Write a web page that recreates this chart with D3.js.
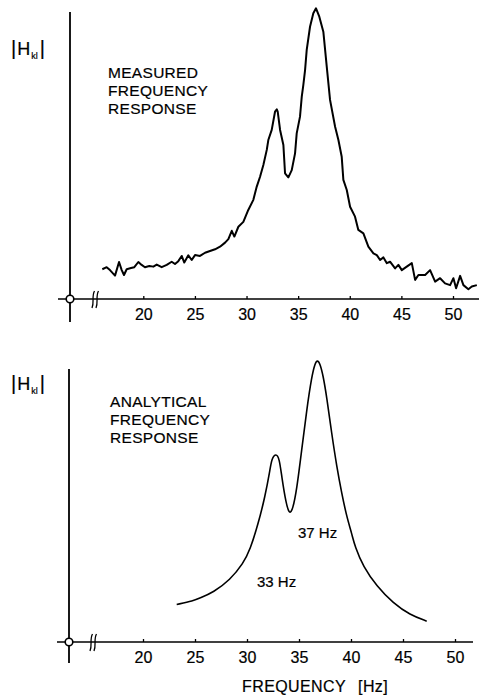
<!DOCTYPE html>
<html>
<head>
<meta charset="utf-8">
<script src="https://cdn.jsdelivr.net/npm/d3@7"></script>
<style>
  html, body { margin: 0; padding: 0; background: #fff; }
  svg { display: block; }
  text { font-family: "Liberation Sans", Arial, sans-serif; fill: #000; stroke: #000; stroke-width: 0.2px; }
</style>
</head>
<body>
<svg id="chart" width="479" height="699"></svg>
<script>
// ---- data ----
const tickValues = [20, 25, 30, 35, 40, 45, 50];
const tickLabels = ["20", "25", "30", "35", "40", "45", "50"];

// measured frequency response (Hz, relative |Hkl|)
const measuredFreq = [16.03,16.45,16.77,17.26,17.65,17.91,18.13,18.39,18.81,19.13,19.52,19.84,20.16,20.58,20.97,21.30,21.78,22.27,22.75,23.07,23.39,23.72,23.97,24.36,24.69,25.01,25.49,25.98,26.46,26.95,27.43,27.92,28.24,28.57,28.82,29.21,29.69,30.17,30.66,30.99,31.31,31.63,31.96,32.11,32.44,32.76,32.93,33.02,33.25,33.57,33.73,34.05,34.38,34.70,34.86,35.18,35.35,35.50,35.67,35.83,36.15,36.47,36.73,37.05,37.44,37.77,38.09,38.58,38.90,39.22,39.38,39.71,40.03,40.51,40.83,41.32,41.80,42.29,42.62,42.94,43.26,43.59,43.90,44.39,44.71,45.04,45.52,46.01,46.33,46.65,47.30,47.78,48.27,48.75,49.23,49.72,50.04,50.30,50.69,51.01,51.49,51.82,52.31];
const measuredAmp = [10.3,11.0,10.0,8.1,12.8,10.0,8.3,10.3,10.7,11.0,12.8,11.8,11.0,11.4,11.2,11.9,11.0,11.8,12.9,12.1,13.1,14.9,12.6,15.1,13.5,15.2,14.9,16.0,16.6,17.2,18.1,19.5,20.7,23.6,21.6,25.0,26.7,30.8,34.3,38.9,42.3,46.4,51.6,55.0,58.5,64.8,65.6,64.8,58.5,53.3,43.5,42.1,44.6,50.4,57.3,63.1,70.0,74.0,79.2,86.2,94.2,98.9,100.6,97.7,92.5,80.4,68.9,59.6,55.0,49.2,41.2,37.7,31.9,28.5,23.9,22.7,18.1,15.8,15.2,13.5,14.4,12.4,12.9,10.6,11.8,10.0,11.2,12.4,6.6,8.3,8.3,10.0,6.0,7.2,5.4,4.8,7.2,3.7,8.0,4.8,3.4,4.3,4.8];

// analytical frequency response
const analyticFreq = [23.24,24.84,25.48,26.76,28.37,29.64,30.29,31.09,31.73,32.21,32.38,32.79,33.11,33.34,33.75,34.07,34.39,34.78,35.26,35.74,36.22,36.54,36.76,37.02,37.34,37.66,38.14,38.63,39.11,39.59,40.07,40.38,41.18,42.47,44.07,45.67,47.28];
const analyticAmp  = [13.3,14.6,15.6,17.6,22.0,27.9,32.6,42.1,51.5,61.0,65.1,66.9,65.1,58.6,49.2,45.3,46.8,53.9,68.1,82.3,94.1,98.8,100,98.8,94.1,87.0,74.0,62.2,52.7,44.4,38.5,33.8,26.7,19.8,13.7,9.6,7.4];

const peakLabels = ["37 Hz", "33 Hz"];

// ---- drawing ----
const svg = d3.select("#chart");

function panel(cfg) {
  const g = svg.append("g");
  const x = d3.scaleLinear().domain([20, 50]).range(cfg.xr);
  const y = d3.scaleLinear().domain([0, 100]).range(cfg.yr);
  const y0 = y(0);
  const ox = cfg.originX;

  g.append("line").attr("x1", ox).attr("x2", ox)
    .attr("y1", cfg.vTop).attr("y2", cfg.vBottom)
    .attr("stroke", "#000").attr("stroke-width", 1.8);
  g.append("line").attr("x1", ox - 12).attr("x2", cfg.hRight)
    .attr("y1", y0).attr("y2", y0)
    .attr("stroke", "#000").attr("stroke-width", 1.6);
  g.append("circle").attr("cx", ox).attr("cy", y0).attr("r", 3.8)
    .attr("fill", "#fff").attr("stroke", "#000").attr("stroke-width", 1.6);
  [0, 4].forEach(d => {
    const bx = cfg.breakX + d;
    g.append("path")
      .attr("d", `M${bx + 1.5},${y0 - 8} C${bx - 1.5},${y0 - 3} ${bx + 1.5},${y0 + 3} ${bx - 1.0},${y0 + 9}`)
      .attr("fill", "none").attr("stroke", "#000").attr("stroke-width", 1.3);
  });

  const axis = d3.axisBottom(x).tickValues(tickValues)
    .tickFormat((d, i) => tickLabels[i]).tickSize(-3).tickPadding(10);
  const ag = g.append("g").attr("transform", `translate(0,${y0})`).call(axis);
  ag.select(".domain").remove();
  ag.selectAll(".tick line").attr("stroke", "#000").attr("stroke-width", 1.3);
  ag.selectAll(".tick text").attr("font-size", 16)
    .attr("font-family", "'Liberation Sans', Arial, sans-serif").attr("fill", "#000");

  const hl = g.append("text").attr("x", 11).attr("y", cfg.hY).attr("font-size", 20);
  hl.append("tspan").text("|");
  hl.append("tspan").attr("dx", 1).attr("font-size", 18).text("H");
  hl.append("tspan").attr("font-size", 9).attr("dy", 4).attr("dx", 1).text("kl");
  hl.append("tspan").attr("dy", -4).attr("dx", 2).text("|");

  cfg.title.forEach((t, i) => {
    g.append("text").attr("x", cfg.titleX).attr("y", cfg.titleY + i * 18)
      .attr("font-size", 15.5).attr("letter-spacing", 0.3).text(t);
  });

  return {g, x, y};
}

const topPanel = panel({
  xr: [143.3, 453], yr: [299, 10], originX: 70, vTop: 12, vBottom: 322,
  hRight: 479, breakX: 93, hY: 55, titleX: 108, titleY: 78,
  title: ["MEASURED", "FREQUENCY", "RESPONSE"]
});
const lineTop = d3.line()
  .x((d, i) => topPanel.x(measuredFreq[i]))
  .y(d => topPanel.y(d));
topPanel.g.append("path").datum(measuredAmp).attr("d", lineTop)
  .attr("fill", "none").attr("stroke", "#000").attr("stroke-width", 2)
  .attr("stroke-linejoin", "round");

const botPanel = panel({
  xr: [143, 455], yr: [642, 360], originX: 69, vTop: 369, vBottom: 663,
  hRight: 473, breakX: 91, hY: 390, titleX: 110, titleY: 407,
  title: ["ANALYTICAL", "FREQUENCY", "RESPONSE"]
});
const lineBot = d3.line()
  .x((d, i) => botPanel.x(analyticFreq[i]))
  .y(d => botPanel.y(d))
  .curve(d3.curveBasis);
botPanel.g.append("path").datum(analyticAmp).attr("d", lineBot)
  .attr("fill", "none").attr("stroke", "#000").attr("stroke-width", 1.6);

botPanel.g.append("text").attr("x", 298).attr("y", 538).attr("font-size", 15).text(peakLabels[0]);
botPanel.g.append("text").attr("x", 257).attr("y", 587).attr("font-size", 15).text(peakLabels[1]);

const xt = botPanel.g.append("text").attr("x", 242).attr("y", 692).attr("font-size", 16).attr("letter-spacing", 0.4);
xt.append("tspan").text("FREQUENCY");
xt.append("tspan").attr("dx", 12).text("[Hz]");
</script>
</body>
</html>
